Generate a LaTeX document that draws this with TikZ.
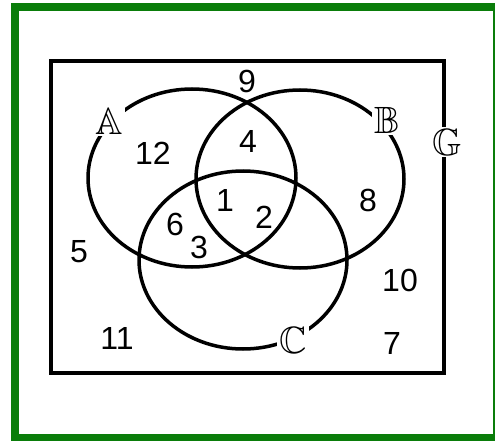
\documentclass[tikz,border=0pt]{standalone}
\usepackage{amssymb}
\usepackage{fontspec}
\setmainfont{Liberation Sans}
\usetikzlibrary{shapes.geometric}

\definecolor{framegreen}{RGB}{10,125,10}

\tikzset{
	region/.style={ellipse, draw, line width=3.5pt, minimum width=208pt, minimum height=178pt, inner sep=0pt},
	num/.style={font=\fontsize{32}{32}\selectfont, inner sep=0pt},
	setname/.style={fill=white, inner sep=2pt, font=\fontsize{38}{38}\selectfont}
}

\begin{document}
\begin{tikzpicture}[x=1pt, y=-1pt]

	\useasboundingbox (0,0) rectangle (495,441);
	\draw[framegreen, line width=8pt] (15,7) rectangle (497,438);
	\draw[line width=4pt] (51,61) rectangle (444,373);

	\node[region] (a) at (192,178) {};
	\node[region] (b) at (300,179) {};
	\node[region] (c) at (243,260) {};

	\node[setname] (na) at (109,121) {$\mathbb{A}$};
	\node[setname] (nb) at (387,120) {$\mathbb{B}$};
	\node[setname] (nc) at (293,340) {$\mathbb{C}$};
	\node[setname] (ng) at (447,142) {$\mathbb{G}$};

	\node[num] (n9) at (247,81) {9};
	\node[num] (n4) at (248,141) {4};
	\node[num] (n12) at (153,153) {12};
	\node[num] (n1) at (225,200) {1};
	\node[num] (n2) at (264,217) {2};
	\node[num] (n6) at (175,224) {6};
	\node[num] (n3) at (199,247) {3};
	\node[num] (n8) at (368,200) {8};
	\node[num] (n5) at (79,252) {5};
	\node[num] (n10) at (400,280) {10};
	\node[num] (n11) at (117,338) {11};
	\node[num] (n7) at (392,343) {7};

\end{tikzpicture}
\end{document}
